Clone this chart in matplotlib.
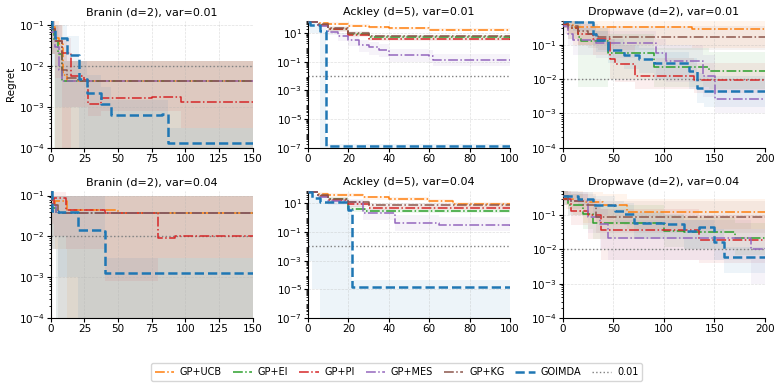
import numpy as np
import matplotlib
matplotlib.use("Agg")
import matplotlib.pyplot as plt
from matplotlib.ticker import LogLocator, NullFormatter

methods = ["GP+UCB", "GP+EI", "GP+PI", "GP+MES", "GP+KG", "GOIMDA"]
colors = ["#ff7f0e", "#2ca02c", "#d62728", "#9467bd", "#8c564b", "#1f77b4"]

# each entry: (x breakpoints, mean regret, band lower, band upper) -- step functions
branin_01 = {
    "GP+UCB": ([0, 3, 6, 9, 12, 150], [0.09, 0.05, 0.035, 0.006, 0.0044, 0.0044],
               [0.02, 1e-5, 1e-5, 1e-5, 1e-5, 1e-5], [0.13, 0.13, 0.1, 0.02, 0.013, 0.013]),
    "GP+EI": ([0, 2, 5, 8, 150], [0.08, 0.04, 0.02, 0.0044, 0.0044],
              [0.02, 1e-5, 1e-5, 1e-5, 1e-5], [0.13, 0.1, 0.05, 0.013, 0.013]),
    "GP+PI": ([0, 3, 8, 15, 25, 28, 37, 75, 97, 150],
              [0.08, 0.04, 0.021, 0.0057, 0.0046, 0.0012, 0.0017, 0.0018, 0.0013, 0.0013],
              [0.02, 0.005, 1e-5, 0.001, 0.001, 0.0006, 0.0008, 0.0008, 0.0003, 0.0003],
              [0.13, 0.1, 0.05, 0.013, 0.013, 0.013, 0.013, 0.013, 0.013, 0.013]),
    "GP+MES": ([0, 3, 6, 8, 150], [0.07, 0.03, 0.008, 0.0044, 0.0044],
               [0.02, 1e-5, 1e-5, 1e-5, 1e-5], [0.13, 0.1, 0.02, 0.013, 0.013]),
    "GP+KG": ([0, 3, 8, 12, 20, 150], [0.08, 0.04, 0.008, 0.005, 0.0044, 0.0044],
              [0.02, 1e-5, 1e-5, 1e-5, 1e-5, 1e-5], [0.13, 0.1, 0.05, 0.013, 0.013, 0.013]),
    "GOIMDA": ([0, 1, 3, 12, 21, 27, 37, 45, 83, 87, 150],
               [0.13, 0.08, 0.05, 0.019, 0.0047, 0.0022, 0.0012, 0.00063, 0.00068, 0.000135, 0.000135],
               [0.05, 0.01, 0.001, 0.001, 1e-5, 1e-5, 1e-5, 1e-5, 1e-5, 1e-5, 1e-5],
               [0.13, 0.13, 0.1, 0.055, 0.013, 0.006, 0.003, 0.0015, 0.0015, 0.0003, 0.0003]),
}

ackley_01 = {
    "GP+UCB": ([0, 5, 10, 20, 30, 40, 60, 100], [60, 50, 45, 32, 26, 22, 17, 17],
               [50, 40, 35, 25, 20, 17, 13, 13], [75, 60, 55, 40, 32, 28, 22, 22]),
    "GP+EI": ([0, 5, 10, 20, 30, 100], [60, 35, 20, 9, 5, 4.5],
              [50, 25, 14, 6, 3.5, 3.2], [75, 45, 28, 12, 7, 6]),
    "GP+PI": ([0, 5, 10, 20, 30, 100], [60, 35, 18, 8, 4, 3.4],
              [50, 25, 12, 5.5, 2.8, 2.4], [75, 45, 25, 11, 5.5, 4.8]),
    "GP+MES": ([0, 5, 10, 15, 20, 25, 30, 35, 40, 60, 62, 100],
               [60, 30, 12, 6.5, 3.1, 1.6, 1.0, 0.7, 0.3, 0.26, 0.14, 0.14],
               [50, 20, 7, 3, 1.2, 0.5, 0.3, 0.2, 0.1, 0.08, 0.05, 0.05],
               [75, 40, 18, 11, 6, 3.5, 2.5, 1.8, 0.8, 0.7, 0.35, 0.35]),
    "GP+KG": ([0, 5, 10, 20, 30, 100], [60, 40, 22, 10, 6, 5.9],
              [50, 30, 15, 7, 4.5, 4.3], [75, 50, 30, 14, 8, 8]),
    "GOIMDA": ([0, 1, 6, 9, 100], [60, 38, 13, 1.3e-7, 1.3e-7],
               [50, 10, 1e-8, 1e-8, 1e-8], [75, 50, 20, 2e-7, 2e-7]),
}

dropwave_01 = {
    "GP+UCB": ([0, 3, 10, 128, 200], [0.45, 0.38, 0.32, 0.28, 0.28],
               [0.3, 0.2, 0.1, 0.08, 0.08], [0.5, 0.5, 0.5, 0.5, 0.5]),
    "GP+EI": ([0, 5, 15, 18, 45, 90, 145, 200], [0.4, 0.3, 0.17, 0.13, 0.057, 0.022, 0.017, 0.017],
              [0.3, 0.15, 0.006, 0.006, 0.01, 0.006, 0.005, 0.005],
              [0.5, 0.5, 0.4, 0.3, 0.2, 0.08, 0.06, 0.06]),
    "GP+PI": ([0, 5, 15, 30, 47, 52, 71, 130, 200],
              [0.4, 0.3, 0.2, 0.15, 0.037, 0.027, 0.0125, 0.0093, 0.0093],
              [0.3, 0.15, 0.1, 0.05, 0.01, 0.008, 0.005, 0.004, 0.004],
              [0.5, 0.5, 0.4, 0.3, 0.15, 0.1, 0.04, 0.03, 0.03]),
    "GP+MES": ([0, 5, 10, 33, 92, 102, 139, 151, 200],
               [0.35, 0.2, 0.14, 0.11, 0.057, 0.033, 0.012, 0.0026, 0.0026],
               [0.2, 0.1, 0.05, 0.04, 0.01, 0.008, 0.003, 0.001, 0.001],
               [0.5, 0.4, 0.3, 0.25, 0.15, 0.1, 0.05, 0.01, 0.01]),
    "GP+KG": ([0, 5, 15, 25, 35, 200], [0.45, 0.35, 0.25, 0.2, 0.17, 0.17],
              [0.3, 0.2, 0.1, 0.08, 0.07, 0.07], [0.5, 0.5, 0.45, 0.4, 0.35, 0.35]),
    "GOIMDA": ([0, 2, 10, 30, 33, 45, 60, 75, 90, 120, 125, 133, 140, 200],
               [0.45, 0.5, 0.45, 0.2, 0.14, 0.07, 0.05, 0.037, 0.03, 0.03, 0.017, 0.0055, 0.0044, 0.0044],
               [0.3, 0.3, 0.25, 0.1, 0.06, 0.03, 0.02, 0.015, 0.01, 0.01, 0.005, 0.002, 0.0015, 0.0015],
               [0.5, 0.5, 0.5, 0.35, 0.25, 0.15, 0.1, 0.08, 0.06, 0.06, 0.04, 0.015, 0.012, 0.012]),
}

branin_04 = {
    "GP+UCB": ([0, 1, 3, 12, 50, 150], [0.12, 0.06, 0.075, 0.045, 0.037, 0.037],
               [0.05, 0.01, 0.005, 1e-5, 1e-5, 1e-5], [0.13, 0.1, 0.1, 0.1, 0.1, 0.1]),
    "GP+EI": ([0, 1, 4, 150], [0.12, 0.05, 0.038, 0.038],
              [0.05, 0.005, 1e-5, 1e-5], [0.13, 0.1, 0.1, 0.1]),
    "GP+PI": ([0, 1, 2, 11, 40, 80, 92, 150], [0.12, 0.06, 0.085, 0.044, 0.037, 0.0093, 0.01, 0.01],
              [0.05, 0.02, 0.01, 0.005, 0.0008, 0.003, 0.003, 0.003],
              [0.13, 0.12, 0.12, 0.1, 0.1, 0.1, 0.1, 0.1]),
    "GP+MES": ([0, 1, 4, 150], [0.12, 0.06, 0.038, 0.038],
               [0.05, 0.005, 1e-5, 1e-5], [0.13, 0.1, 0.1, 0.1]),
    "GP+KG": ([0, 1, 5, 150], [0.12, 0.06, 0.038, 0.038],
              [0.05, 0.005, 1e-5, 1e-5], [0.13, 0.1, 0.1, 0.1]),
    "GOIMDA": ([0, 1, 5, 20, 37, 40, 150], [0.13, 0.043, 0.04, 0.0146, 0.0135, 0.0013, 0.0013],
               [0.05, 0.01, 0.001, 1e-5, 1e-5, 1e-5, 1e-5],
               [0.13, 0.1, 0.1, 0.1, 0.1, 0.003, 0.003]),
}

ackley_04 = {
    "GP+UCB": ([0, 5, 10, 27, 40, 60, 72, 100], [60, 45, 38, 26, 22, 15, 9, 8.5],
               [50, 35, 28, 18, 15, 10, 6, 6], [75, 60, 50, 35, 30, 22, 13, 13]),
    "GP+EI": ([0, 5, 10, 20, 28, 100], [60, 35, 20, 4.0, 3.0, 2.9],
              [50, 25, 14, 2.5, 2, 2], [75, 45, 28, 7, 4.5, 4.5]),
    "GP+PI": ([0, 5, 10, 20, 30, 100], [60, 35, 18, 9, 5, 4.5],
              [50, 25, 12, 6, 3.5, 3], [75, 45, 25, 13, 7, 6.5]),
    "GP+MES": ([0, 5, 10, 20, 27, 43, 65, 100], [60, 30, 15, 13, 2.0, 0.46, 0.3, 0.28],
               [50, 20, 8, 6, 0.7, 0.12, 0.12, 0.12], [75, 40, 25, 22, 4, 1.5, 1.2, 1.2]),
    "GP+KG": ([0, 5, 10, 20, 30, 100], [60, 40, 22, 12, 7.5, 7.2],
              [50, 30, 15, 8, 5, 5], [75, 50, 30, 17, 10, 10]),
    "GOIMDA": ([0, 2, 6, 20, 22, 100], [60, 25, 13, 3.4, 1.45e-5, 1.45e-5],
               [1e-3, 1e-5, 1e-8, 1e-8, 1e-8, 1e-8], [75, 40, 20, 6, 4.5e-5, 4.5e-5]),
}

dropwave_04 = {
    "GP+UCB": ([0, 3, 10, 20, 40, 63, 200], [0.35, 0.3, 0.26, 0.23, 0.2, 0.12, 0.12],
               [0.25, 0.15, 0.1, 0.06, 0.05, 0.04, 0.04], [0.5, 0.5, 0.5, 0.45, 0.4, 0.3, 0.3]),
    "GP+EI": ([0, 5, 20, 30, 100, 120, 170, 200], [0.3, 0.2, 0.107, 0.06, 0.035, 0.032, 0.021, 0.02],
              [0.2, 0.1, 0.04, 0.02, 0.012, 0.01, 0.007, 0.007],
              [0.5, 0.4, 0.3, 0.2, 0.1, 0.09, 0.06, 0.06]),
    "GP+PI": ([0, 8, 25, 38, 135, 200], [0.3, 0.134, 0.1, 0.037, 0.019, 0.019],
              [0.2, 0.05, 0.02, 0.005, 0.004, 0.004], [0.5, 0.4, 0.3, 0.15, 0.1, 0.1]),
    "GP+MES": ([0, 5, 25, 37, 45, 50, 186, 200], [0.35, 0.26, 0.09, 0.055, 0.022, 0.021, 0.01, 0.011],
               [0.2, 0.1, 0.03, 0.01, 0.005, 0.005, 0.001, 0.001],
               [0.5, 0.45, 0.25, 0.15, 0.08, 0.07, 0.04, 0.04]),
    "GP+KG": ([0, 5, 20, 33, 200], [0.35, 0.25, 0.2, 0.09, 0.088],
              [0.25, 0.15, 0.1, 0.03, 0.03], [0.5, 0.45, 0.4, 0.25, 0.25]),
    "GOIMDA": ([0, 15, 30, 52, 60, 70, 100, 120, 135, 150, 160, 200],
               [0.35, 0.3, 0.2, 0.13, 0.11, 0.057, 0.055, 0.035, 0.044, 0.016, 0.0058, 0.0058],
               [0.25, 0.2, 0.1, 0.06, 0.05, 0.02, 0.02, 0.01, 0.01, 0.005, 0.002, 0.002],
               [0.5, 0.45, 0.35, 0.25, 0.22, 0.12, 0.11, 0.07, 0.07, 0.04, 0.012, 0.012]),
}

panels = [
    (branin_01, "Branin (d=2), var=0.01", 150, (1e-4, 0.13), [1e-4, 1e-3, 1e-2, 1e-1]),
    (ackley_01, "Ackley (d=5), var=0.01", 100, (1e-7, 75), [1e-7, 1e-5, 1e-3, 1e-1, 1e1]),
    (dropwave_01, "Dropwave (d=2), var=0.01", 200, (1e-4, 0.5), [1e-4, 1e-3, 1e-2, 1e-1]),
    (branin_04, "Branin (d=2), var=0.04", 150, (1e-4, 0.13), [1e-4, 1e-3, 1e-2, 1e-1]),
    (ackley_04, "Ackley (d=5), var=0.04", 100, (1e-7, 75), [1e-7, 1e-5, 1e-3, 1e-1, 1e1]),
    (dropwave_04, "Dropwave (d=2), var=0.04", 200, (1e-4, 0.5), [1e-4, 1e-3, 1e-2, 1e-1]),
]

fig = plt.figure(figsize=(7.82, 3.88), dpi=100)
lefts = [0.065, 0.394, 0.72]
bottoms = [0.619, 0.180]
w, h = 0.258, 0.328

handles = []
for i, (data, title, xmax, ylim, yticks) in enumerate(panels):
    ax = fig.add_axes([lefts[i % 3], bottoms[i // 3], w, h])
    for m, c in zip(methods, colors):
        x, y, lo, hi = data[m]
        ax.fill_between(x, lo, hi, step="post", color=c, alpha=0.08, lw=0)
    hs = []
    for m, c in zip(methods, colors):
        x, y, lo, hi = data[m]
        if m == "GOIMDA":
            ln, = ax.plot(x, y, drawstyle="steps-post", color=c, ls="--", lw=1.8, label=m, zorder=4)
        else:
            ln, = ax.plot(x, y, drawstyle="steps-post", color=c, ls="-.", lw=1.1, label=m, zorder=3)
        hs.append(ln)
    ref = ax.axhline(0.01, color="gray", ls=":", lw=1.0, label="0.01", zorder=2)
    hs.append(ref)
    if i == 0:
        handles = hs
    ax.set_yscale("log")
    ax.set_xlim(0, xmax)
    ax.set_ylim(*ylim)
    ax.set_yticks(yticks)
    ax.yaxis.set_minor_locator(LogLocator(base=10, subs=np.arange(2, 10) * 0.1, numticks=50))
    ax.yaxis.set_minor_formatter(NullFormatter())
    ax.set_title(title, fontsize=8, pad=4)
    ax.tick_params(labelsize=7.5, length=3, pad=1.5)
    ax.tick_params(which="minor", length=1.5)
    ax.grid(True, ls="--", lw=0.5, alpha=0.4)
    ax.spines["top"].set_visible(False)
    ax.spines["right"].set_visible(False)
    if i == 0:
        ax.set_ylabel("Regret", fontsize=7.5, labelpad=2)

fig.legend(handles, methods + ["0.01"], loc="lower center", ncol=7, fontsize=7,
           bbox_to_anchor=(0.507, 0.005), frameon=True, handlelength=2.0,
           handletextpad=0.6, columnspacing=1.1)

fig.savefig("out.png", dpi=100)
